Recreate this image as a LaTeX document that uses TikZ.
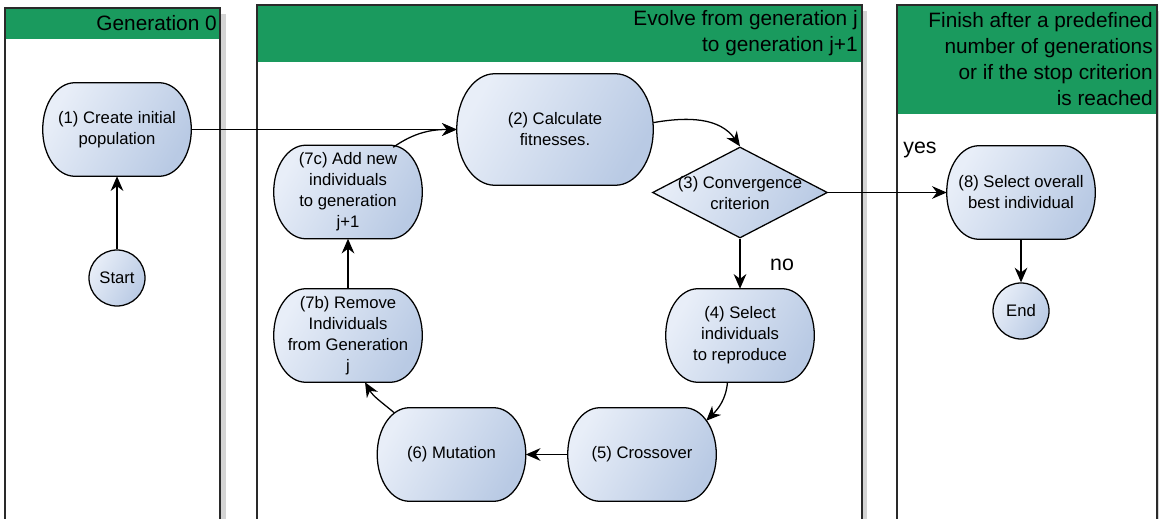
\documentclass[tikz,border=0pt]{standalone}
\usepackage{fontspec}
\setmainfont{Liberation Sans}
\usetikzlibrary{shapes.geometric,arrows.meta,calc}
\definecolor{hdr}{HTML}{1A9A5E}
\definecolor{nlight}{HTML}{E8EEF8}
\definecolor{ndark}{HTML}{B9CAE4}
\definecolor{shd}{HTML}{D4D4D4}
\definecolor{laneline}{HTML}{2A2A2A}
\pgfdeclarelayer{lanes}
\pgfdeclarelayer{shapes}
\pgfsetlayers{lanes,shapes,main}
% oval outline behind a named rectangular node: name, x radius, y radius
\newcommand\nodeoval[3]{%
  \path[ovalstyle] ($(#1.north west)+(#2,0pt)$) -- ($(#1.north east)+(-#2,0pt)$)
    arc[start angle=90,end angle=0,x radius=#2,y radius=#3]
    -- ($(#1.south east)+(0pt,#3)$)
    arc[start angle=0,end angle=-90,x radius=#2,y radius=#3]
    -- ($(#1.south west)+(#2,0pt)$)
    arc[start angle=-90,end angle=-180,x radius=#2,y radius=#3]
    -- ($(#1.north west)+(0pt,-#3)$)
    arc[start angle=180,end angle=90,x radius=#2,y radius=#3] -- cycle;}
\begin{document}
\begin{tikzpicture}[x=0.75pt,y=0.75pt,
  nodefill/.style={top color=nlight, bottom color=ndark, shading angle=60},
  ovalstyle/.style={draw=black, line width=0.95pt, nodefill},
  proc/.style={rectangle, minimum width=111pt, minimum height=69.75pt, inner sep=0pt,
    align=center, font=\fontsize{12.5}{15.75}\selectfont},
  bigproc/.style={proc, minimum width=147pt, minimum height=83.25pt},
  term/.style={circle, draw=black, line width=0.95pt, nodefill, minimum size=42pt,
    inner sep=0pt, font=\fontsize{12.5}{15.75}\selectfont},
  dec/.style={diamond, draw=black, line width=0.95pt, nodefill,
    minimum width=131.25pt, minimum height=68.25pt, inner sep=0pt},
  txt/.style={align=center, inner sep=0pt, font=\fontsize{12.5}{15.75}\selectfont},
  arr/.style={-{Stealth[length=11pt,width=9.5pt]}, line width=0.95pt, black},
  laneb/.style={draw=laneline, line width=1.1pt},
  hdrtxt/.style={anchor=east, align=right, inner sep=0pt,
    font=\fontsize{15.6}{19.5}\selectfont},
  lbl/.style={inner sep=0pt, font=\fontsize{16}{19}\selectfont}
]
\useasboundingbox (0,0) rectangle (1159,518);
\clip (0,0) rectangle (1159,518);

\begin{pgfonlayer}{lanes}
% lane shadows
\fill[shd] (10,-12) rectangle (226,504);
\fill[shd] (262,-12) rectangle (867,507);
\fill[shd] (902,-12) rectangle (1162,507);
% lanes
\fill[white] (5,-12) rectangle (220,510);
\fill[hdr] (5,479) rectangle (220,510);
\draw[laneb] (5,-12) rectangle (220,510);
\fill[white] (257,-12) rectangle (862,513);
\fill[hdr] (257,456) rectangle (862,513);
\draw[laneb] (257,-12) rectangle (862,513);
\fill[white] (897,-12) rectangle (1157,513);
\fill[hdr] (897,404) rectangle (1157,513);
\draw[laneb] (897,-12) rectangle (1157,513);
\end{pgfonlayer}

% headers
\node[hdrtxt] (h1) at (217,494.5) {Generation 0};
\node[hdrtxt] (h2) at (858,484.5) {Evolve from generation j\\to generation j+1};
\node[hdrtxt] (h3) at (1153,458.5) {Finish after a predefined\\number of generations\\or if the stop criterion\\is reached};

% nodes
\node[proc] (n1) at (117,388.5) {(1) Create initial\\population};
\node[term] (start) at (117,240) {Start};
\node[bigproc] (n2) at (555,388.5) {(2) Calculate\\fitnesses.};
\node[dec] (n3) at (740,325.5) {};
\node[txt] (n3t) at (740,324.5) {(3) Convergence\\criterion};
\node[proc] (n4) at (740,182.5) {(4) Select\\individuals\\to reproduce};
\node[proc] (n5) at (642,63.5) {(5) Crossover};
\node[proc] (n6) at (451.5,63.5) {(6) Mutation};
\node[proc] (n7b) at (348,182.5) {(7b) Remove\\Individuals\\from Generation\\j};
\node[proc] (n7c) at (348,326) {(7c) Add new\\individuals\\to generation\\j+1};
\node[proc] (n8) at (1021,325.5) {(8) Select overall\\best individual};
\node[term] (end) at (1021,207) {End};

\begin{pgfonlayer}{shapes}
\foreach \nm in {n1,n4,n5,n6,n7b,n7c,n8}{\nodeoval{\nm}{24pt}{34.8pt}}
\nodeoval{n2}{28.5pt}{41.6pt}
\end{pgfonlayer}

\node[lbl] (yes) at (920,368) {yes};
\node[lbl] (no) at (782,253) {no};

% connectors
\draw[arr] (start) -- (n1);
\draw[arr] (n1) -- (n2);
\draw[arr] (n2.4) to[out=10, in=125] (n3.north);
\draw[arr] (n3) -- (n4);
\draw[arr] (n3) -- (n8);
\draw[arr] (n4.255) to[out=-95, in=45] ($(n5.north east)+(-10,-13)$);
\draw[arr] (n5) -- (n6);
\draw[arr] ($(n6.north west)+(17,-5)$) to[out=140, in=-60] (n7b.290);
\draw[arr] (n7b) -- (n7c);
\draw[arr] ($(n7c.north east)+(-29,-2)$) to[out=35, in=180] (n2.west);
\draw[arr] (n8) -- (end);
\end{tikzpicture}
\end{document}
